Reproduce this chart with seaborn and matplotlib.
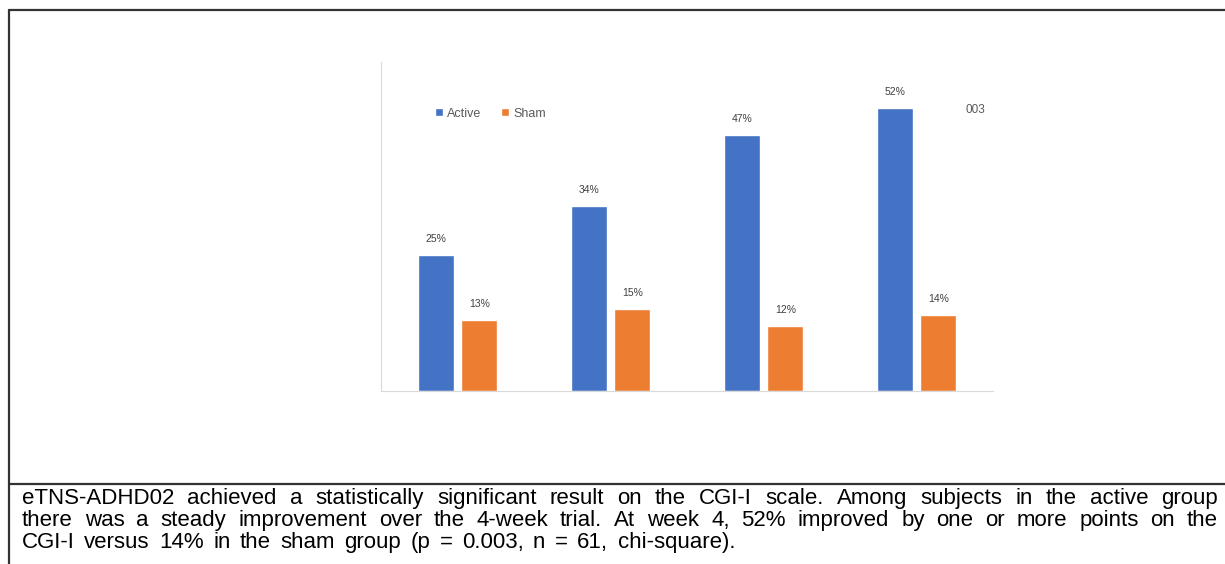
import matplotlib
matplotlib.use('Agg')
import matplotlib.pyplot as plt
from matplotlib.patches import Patch
import pandas as pd
import seaborn as sns

# dados
semanas = ['Week 1', 'Week 2', 'Week 3', 'Week 4']
active = [25, 34, 47, 52]
sham = [13, 15, 12, 14]
grupos = ['Active', 'Sham']
cores = ['#4472C4', '#ED7D31']

linhas_texto = [
    'eTNS-ADHD02 achieved a statistically significant result on the CGI-I scale. Among subjects in the active group',
    'there was a steady improvement over the 4-week trial. At week 4, 52% improved by one or more points on the',
    'CGI-I versus 14% in the sham group (p = 0.003, n = 61, chi-square).',
]
fim_linhas = [1218, 1218, 735]  # onde cada linha termina (px)

df = pd.DataFrame({
    'semana': semanas * 2,
    'valor': active + sham,
    'grupo': ['Active'] * 4 + ['Sham'] * 4,
})

sns.set_style('white')
plt.rcParams['font.family'] = ['Liberation Sans', 'DejaVu Sans']

W, H = 1225, 564
fig = plt.figure(figsize=(W / 100, H / 100), dpi=100)
ax = fig.add_axes([381 / W, 173 / H, 612 / W, 329 / H])

sns.barplot(data=df, x='semana', y='valor', hue='grupo', palette=cores,
            width=0.57, gap=0.17, ax=ax, saturation=1, legend=False)

for cont in ax.containers:
    ax.bar_label(cont, labels=['{}%'.format(int(v)) for v in cont.datavalues],
                 padding=8, fontsize=7.5, color='#404040')

ax.set_ylim(0, 60.5)
ax.set_xlim(-0.5, 3.5)
ax.set_xticks([])
ax.set_yticks([])
ax.set_xlabel('')
ax.set_ylabel('')
for s in ['top', 'right']:
    ax.spines[s].set_visible(False)
ax.spines['left'].set_color('#d9d9d9')
ax.spines['bottom'].set_color('#d9d9d9')

# legenda manual
handles = [Patch(facecolor=c, label=g) for g, c in zip(grupos, cores)]
ax.legend(handles=handles, loc='upper left', bbox_to_anchor=(0.07, 0.895),
          ncol=2, frameon=False, fontsize=9, handlelength=0.6, handleheight=0.6,
          columnspacing=1.6, handletextpad=0.35, labelcolor='#595959')

fig.text(975 / W, 1 - 110 / H, '003', fontsize=8.5, color='#595959',
         ha='center', va='center')

# moldura
moldura = dict(color='#333333', linewidth=1.6, transform=fig.transFigure)
fig.add_artist(plt.Line2D([9 / W, 9 / W], [0, 1 - 10 / H], **moldura))
fig.add_artist(plt.Line2D([9 / W, 1], [1 - 10 / H, 1 - 10 / H], **moldura))
fig.add_artist(plt.Line2D([9 / W, 1], [1 - 484 / H, 1 - 484 / H], **moldura))

# texto justificado palavra por palavra
renderer = fig.canvas.get_renderer()
x0 = 22
for i, linha in enumerate(linhas_texto):
    y = 1 - (504 + 22 * i) / H
    palavras = linha.split(' ')
    textos = [fig.text(0, y, p, fontsize=16, color='black', ha='left', va='baseline')
              for p in palavras]
    larguras = [t.get_window_extent(renderer).width for t in textos]
    espaco = (fim_linhas[i] - x0 - sum(larguras)) / (len(palavras) - 1)
    x = x0
    for t, w in zip(textos, larguras):
        t.set_x(x / W)
        x += w + espaco

fig.savefig('out.png', dpi=100)
